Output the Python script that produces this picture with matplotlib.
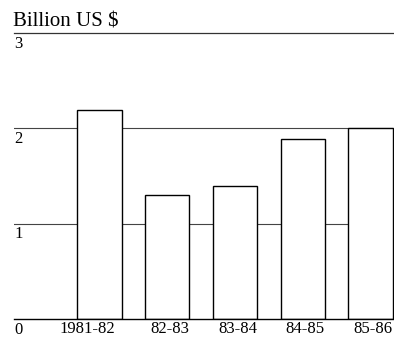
import matplotlib
matplotlib.use('Agg')
import matplotlib.pyplot as plt
import matplotlib.transforms as mtransforms

years = ['1981-82', '82-83', '83-84', '84-85', '85-86']
values = [2.19, 1.30, 1.39, 1.89, 2.00]
yticks = [0, 1, 2, 3]

plt.rcParams['font.family'] = ['Liberation Serif', 'DejaVu Serif']

fig = plt.figure(figsize=(3.94, 3.43), dpi=100)
ax = fig.add_axes([14/394, 1-319/343, 1-14/394, (319-33)/343])

x = list(range(len(years)))
w = 0.65
ax.bar(x, values, width=w, color='white', edgecolor='black', linewidth=1.0, zorder=3)

for v in [1, 2]:
    ax.axhline(v, color='#444444', linewidth=0.8, zorder=1)

ax.set_xlim(-1.262, 4.347)
ax.set_ylim(0, 3)
for s in ['left', 'right']:
    ax.spines[s].set_visible(False)
ax.spines['top'].set_color('#333333')
ax.spines['top'].set_linewidth(0.9)
ax.spines['bottom'].set_color('black')
ax.spines['bottom'].set_linewidth(1.0)
ax.spines['bottom'].set_zorder(4)
ax.set_xticks([])
ax.set_yticks([])

trans = mtransforms.blended_transform_factory(ax.transAxes, ax.transData)
off = mtransforms.ScaledTranslation(0, -2/72, fig.dpi_scale_trans)
for t in yticks:
    ax.text(0.0, t, str(t), transform=trans + off, ha='left', va='top', fontsize=12)

# first label sits a little left of its bar's right edge
shift = [-0.09, 0, 0, 0, 0]
off2 = mtransforms.ScaledTranslation(0, -1.5/72, fig.dpi_scale_trans)
for xi, lab, s in zip(x, years, shift):
    ax.text(xi + w/2 + s, 0, lab, transform=ax.transData + off2, ha='right', va='top', fontsize=12)

fig.text(13/394, 1-27/343, 'Billion US \\$', ha='left', va='baseline', fontsize=15)

fig.savefig('out.png', dpi=100)
